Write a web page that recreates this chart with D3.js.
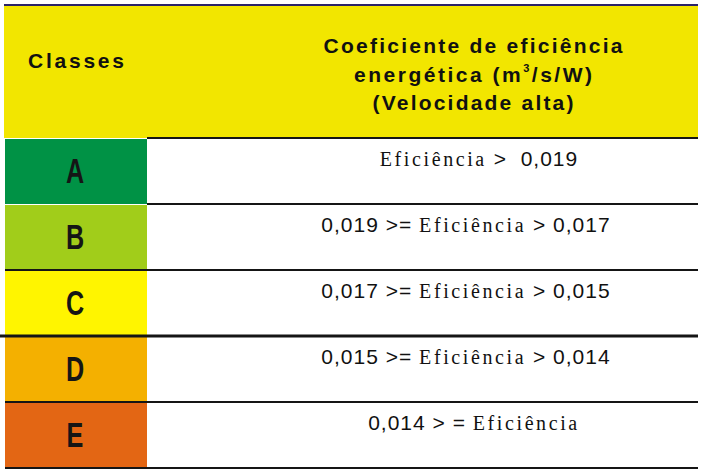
<!DOCTYPE html>
<head>
  <meta charset="utf-8">
  <style>
  body {
    margin: 0;
    background: #fff;
  }
  text {
    white-space: pre;
  }
  .hdr {
    font-family: "Liberation Sans", Arial, sans-serif;
    font-weight: bold;
    fill: #111;
  }
  .cls {
    font-family: "Liberation Sans", Arial, sans-serif;
    font-weight: bold;
    fill: #151515;
  }
  .sans {
    font-family: "Liberation Sans", Arial, sans-serif;
    font-size: 21px;
    letter-spacing: 1px;
  }
  .serif {
    font-family: "Liberation Serif", "Times New Roman", serif;
    font-size: 20px;
    letter-spacing: 2.6px;
  }
</style>
</head>
<svg class="chart" width="704" height="474"></svg>

<script src="https://cdn.jsdelivr.net/npm/d3@7"></script>
<script>
// energy classes and their efficiency thresholds (m3/s/W, high speed)
var classes = ["A", "B", "C", "D", "E"];
var classColors = ["#009245", "#a1cd1a", "#fff500", "#f4b000", "#e36614"];
var upperBounds = [null, "0,019", "0,017", "0,015", "0,014"];
var lowerBounds = ["0,019", "0,017", "0,015", "0,014", null];
var headerLeft = "Classes";
var headerRight = ["Coeficiente de eficiência", "energética (m|3|/s/W)", "(Velocidade alta)"];
var metric = "Eficiência";

var svg = d3.select("svg"),
  left = 5,
  split = 147,
  right = 698,
  headTop = 5,
  headBottom = 138,
  bottom = 468;

var y = d3.scaleBand().domain(classes).range([headBottom, bottom]);

// header
svg.append("rect")
  .attr("x", left - 1).attr("y", headTop)
  .attr("width", right - left + 1).attr("height", headBottom - headTop)
  .attr("fill", "#f2e600");

svg.append("line")
  .attr("x1", left - 1).attr("x2", right)
  .attr("y1", headTop).attr("y2", headTop)
  .attr("stroke", "#2b2468").attr("stroke-width", 2);

svg.append("text")
  .attr("class", "hdr")
  .attr("x", 76).attr("y", 68)
  .attr("text-anchor", "middle")
  .attr("font-size", 21)
  .attr("textLength", 96)
  .text(headerLeft);

var hdrWidths = [299, 238, 201];
headerRight.forEach(function(line, i) {
  var t = svg.append("text")
    .attr("class", "hdr")
    .attr("x", 473).attr("y", 53 + i * 28.5)
    .attr("text-anchor", "middle")
    .attr("font-size", 21)
    .attr("textLength", hdrWidths[i]);
  line.split("|").forEach(function(part, j) {
    var ts = t.append("tspan").text(part);
    if (j === 1) ts.attr("font-size", 11).attr("dy", -10);
    if (j === 2) ts.attr("dy", 10);
  });
});

// rows
var rows = svg.selectAll(".row")
  .data(classes)
  .enter()
  .append("g")
  .attr("class", "row");

rows.append("rect")
  .attr("x", left)
  .attr("y", function(d) { return y(d) + 1; })
  .attr("width", split - left)
  .attr("height", y.bandwidth() - 1)
  .attr("fill", function(d, i) { return classColors[i]; });

rows.append("text")
  .attr("class", "cls")
  .attr("transform", function(d) {
    return "translate(75," + (y(d) + y.bandwidth() / 2 + 12) + ") scale(0.7,1)";
  })
  .attr("text-anchor", "middle")
  .attr("font-size", 36)
  .text(function(d) { return d; });

var label = rows.append("text")
  .attr("x", function(d, i) { return i === 0 ? 479 : i === 4 ? 474 : 466; })
  .attr("y", function(d) { return y(d) + 28; })
  .attr("text-anchor", "middle")
  .attr("fill", "#111");

label.each(function(d, i) {
  var t = d3.select(this);
  var hi = upperBounds[i], lo = lowerBounds[i];
  if (hi) t.append("tspan").attr("class", "sans").text(hi + " " + (lo ? ">=" : "> =") + " ");
  t.append("tspan").attr("class", "serif").text(metric);
  if (lo) t.append("tspan").attr("class", "sans").text(" >" + (hi ? " " : "  ") + lo);
});

// separators
var seps = [
  { y: headBottom, x1: split, w: 2 },
  { y: y("B"), x1: split, w: 2 },
  { y: y("C"), x1: left, w: 2 },
  { y: y("D"), x1: 0, w: 3 },
  { y: y("E"), x1: left, w: 2 },
  { y: bottom, x1: left, w: 2 }
];
svg.selectAll(".sep")
  .data(seps)
  .enter()
  .append("line")
  .attr("class", "sep")
  .attr("x1", function(d) { return d.x1; })
  .attr("x2", right)
  .attr("y1", function(d) { return d.y; })
  .attr("y2", function(d) { return d.y; })
  .attr("stroke", "#151515")
  .attr("stroke-width", function(d) { return d.w; });
</script>
